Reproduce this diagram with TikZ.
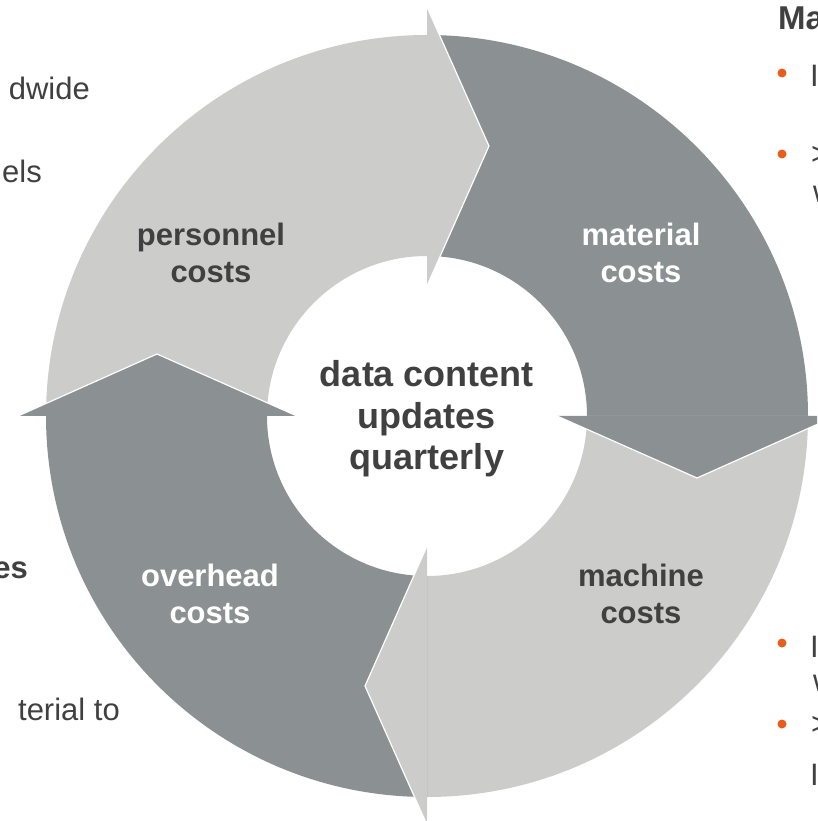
\documentclass[tikz,border=0pt]{standalone}
\usepackage{fontspec}
\setmainfont{Liberation Sans}
\definecolor{ringlight}{RGB}{204,204,203}
\definecolor{ringdark}{RGB}{139,144,146}
\definecolor{txtgray}{RGB}{64,64,64}
\definecolor{bulletorange}{RGB}{232,93,26}

\begin{document}
\begin{tikzpicture}[x=1pt,y=1pt,
    seglabel/.style={align=center,font=\bfseries\fontsize{31}{37}\selectfont,inner sep=0pt},
    hublabel/.style={align=center,font=\bfseries\fontsize{36}{41.5}\selectfont,text=txtgray,inner sep=0pt},
    sidetext/.style={font=\fontsize{31}{37}\selectfont,text=txtgray,inner sep=0pt},
    dot/.style={circle,fill=bulletorange,inner sep=0pt,minimum size=9pt}]
\useasboundingbox (-427,-405) rectangle (390,416);
\clip (-427,-405) rectangle (390,416);

% ring quarters
\foreach \s/\e/\c in {180/90/ringlight,90/0/ringdark,0/-90/ringlight,-90/-180/ringdark}
    \fill[\c] (\s:381) arc[start angle=\s,end angle=\e,radius=381] -- (\e:160) arc[start angle=\e,end angle=\s,radius=160] -- cycle;

% arrow heads
\foreach \a/\c in {90/ringlight,0/ringdark,-90/ringlight,180/ringdark}{
    \fill[\c,rotate=\a-90] (0,130) -- (62,270) -- (0,409) -- cycle;
    \draw[white,line width=1.2pt,rotate=\a-90] (0,130) -- (62,270) -- (0,409);
}

\node[seglabel,text=txtgray] (pers) at (-216,163) {personnel\\costs};
\node[seglabel,text=white] (mat) at (214,163) {material\\costs};
\node[seglabel,text=txtgray] (mach) at (214,-178) {machine\\costs};
\node[seglabel,text=white] (over) at (-217,-178) {overhead\\costs};
\node[hublabel] (hub) at (0,-3) {data content\\updates\\quarterly};

% cut-off side texts
\node[sidetext,anchor=base east] (l1) at (-337,316) {dwide};
\node[sidetext,anchor=base east] (l2) at (-385,233) {els};
\node[sidetext,font=\bfseries\fontsize{31}{37}\selectfont,anchor=base east] (l3) at (-399,-162) {es};
\node[sidetext,anchor=base east] (l4) at (-307,-304) {terial to};

\node[sidetext,font=\bfseries\fontsize{33}{37}\selectfont,anchor=base west] (r0) at (351,386) {Ma};
\node[dot] (b1) at (355,343) {};
\node[dot] (b2) at (355,262) {};
\node[dot] (b3) at (355,-227) {};
\node[dot] (b4) at (355,-308) {};
\node[sidetext,anchor=base west] (r1) at (383,329) {I};
\node[sidetext,anchor=base west] (r2) at (384,251) {>};
\node[sidetext,anchor=base west] (r3) at (386,213) {w};
\node[sidetext,anchor=base west] (r4) at (383,-241) {I};
\node[sidetext,anchor=base west] (r5) at (386,-275) {w};
\node[sidetext,anchor=base west] (r6) at (384,-318) {>};
\node[sidetext,anchor=base west] (r7) at (383,-369) {I};

\end{tikzpicture}
\end{document}
